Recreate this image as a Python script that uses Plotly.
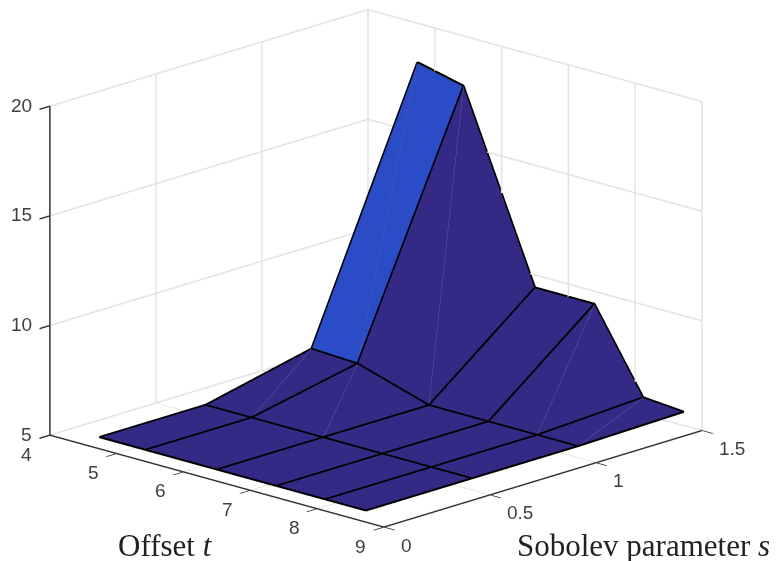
import plotly.graph_objects as go

W, H = 779, 561

# Offset t (rows) and Sobolev parameter s (columns)
t_vals = [4.74, 5.43, 6.50, 7.39, 8.12, 8.73]
s_vals = [0.0, 0.5, 1.0, 1.5]
# z values: one row per t, one column per s
z_vals = [
    [5.5, 5.5, 6.6, 18.2],
    [5.5, 5.5, 6.5, 17.7],
    [5.5, 5.5, 5.5, 9.4],
    [5.5, 5.5, 5.5, 9.4],
    [5.5, 5.5, 5.5, 5.75],
    [5.5, 5.5, 5.5, 5.6],
]

t_ticks = [4, 5, 6, 7, 8, 9]
s_ticks = [0, 0.5, 1, 1.5]
s_tick_text = ["0", "0.5", "1", "1.5"]
z_ticks = [5, 10, 15, 20]

colorscale = [[0, "#342a86"], [0.079, "#2a4dc8"], [1, "#f9fb15"]]
axis_color = "#333333"
grid_color = "#e2e2e2"
tick_font = dict(family="Liberation Sans", size=19, color="#404040")

nt, ns = len(t_vals), len(s_vals)
vx, vy, vz = [], [], []
for i in range(nt):
    for j in range(ns):
        vx.append(t_vals[i]); vy.append(s_vals[j]); vz.append(z_vals[i][j])

I, J, K, cell = [], [], [], []
for i in range(nt - 1):
    for j in range(ns - 1):
        a = i * ns + j
        b = i * ns + j + 1
        c = (i + 1) * ns + j
        d_ = (i + 1) * ns + j + 1
        c_val = z_vals[i + 1][j]       # flat colour taken from one corner of the cell
        I += [a, b]; J += [b, d_]; K += [c, c]
        cell += [c_val, c_val]

mesh = go.Mesh3d(
    x=vx, y=vy, z=vz, i=I, j=J, k=K,
    intensity=cell, intensitymode="cell",
    colorscale=colorscale, cmin=5.5, cmax=18.2, showscale=False,
    flatshading=True,
    lighting=dict(ambient=1, diffuse=0, specular=0, roughness=1, fresnel=0),
    hoverinfo="skip",
)

LIFT = 0.03  # keeps the mesh lines just above the faces
lx, ly, lz = [], [], []
for i in range(nt):
    lx += [t_vals[i]] * ns + [None]
    ly += list(s_vals) + [None]
    lz += [v + LIFT for v in z_vals[i]] + [None]
for j in range(ns):
    lx += list(t_vals) + [None]
    ly += [s_vals[j]] * nt + [None]
    lz += [z_vals[i][j] + LIFT for i in range(nt)] + [None]
lines = go.Scatter3d(x=lx, y=ly, z=lz, mode="lines",
                     line=dict(color="black", width=4), hoverinfo="skip", showlegend=False)

# faint seams where raised cells are split
seams = [(1, 1), (2, 1), (1, 2), (2, 2), (4, 2), (5, 2)]
dx, dy, dz = [], [], []
for i, j in seams:
    dx += [t_vals[i], t_vals[i - 1], None]
    dy += [s_vals[j], s_vals[j + 1], None]
    dz += [z_vals[i][j] + LIFT / 2, z_vals[i - 1][j + 1] + LIFT / 2, None]
seam_trace = go.Scatter3d(x=dx, y=dy, z=dz, mode="lines",
                          line=dict(color="#5f589f", width=1), hoverinfo="skip", showlegend=False)

def axis(rng, vals, ticklen):
    return dict(
        range=rng, autorange=False, tickmode="array", tickvals=vals,
        showticklabels=False,
        showgrid=True, gridcolor=grid_color, gridwidth=3,
        showline=True, linecolor=axis_color, linewidth=3,
        ticks="outside", ticklen=ticklen, tickcolor=axis_color, tickwidth=3,
        showbackground=False, zeroline=False, showspikes=False,
        title=dict(text=""),
    )

def tick_note(x, y, z, text, xanchor, xshift, yshift):
    return dict(x=x, y=y, z=z, text=text, showarrow=False, font=tick_font,
                xanchor=xanchor, yanchor="middle", xshift=xshift, yshift=yshift)

notes = []
for v in t_ticks:
    notes.append(tick_note(v, 0, 5, str(v), "center", -23, -19))
for v, txt in zip(s_ticks, s_tick_text):
    notes.append(tick_note(9, v, 5, txt, "left", 15, -18))
for v in z_ticks:
    notes.append(tick_note(4, 0, v, str(v), "right", -16, 1))

OFF_X, OFF_Y = 8, 9   # the page places the figure this far from the window corner
d = 3.0
A = 653 / 361 * 510 / 561
cam_c = dict(x=0.7244 * 0.0768, y=0.6894 * 0.0768, z=-0.075)
fig = go.Figure([mesh, lines, seam_trace])
fig.update_layout(
    width=W, height=H, margin=dict(l=0, r=0, t=0, b=0),
    paper_bgcolor="white", showlegend=False,
    scene=dict(
        domain=dict(x=[0, 1], y=[0, 1]),
        xaxis=axis([4, 9], t_ticks, 15),
        yaxis=axis([0, 1.5], s_ticks, 15),
        zaxis=axis([5, 20], z_ticks, 7),
        aspectmode="manual", aspectratio=dict(x=A, y=A, z=0.745 * A),
        camera=dict(
            projection=dict(type="orthographic"),
            center=cam_c,
            up=dict(x=0, y=0, z=1),
            eye=dict(x=0.660 * d + cam_c["x"], y=-0.693 * d + cam_c["y"], z=0.289 * d + cam_c["z"]),
        ),
        annotations=notes,
    ),
    annotations=[
        dict(text="Offset <i>t</i>", x=(165 - OFF_X) / W, y=1 - (546 - OFF_Y) / H, xref="paper", yref="paper",
             xanchor="center", yanchor="middle",
             showarrow=False, font=dict(family="Liberation Serif", size=31, color="#222222")),
        dict(text="Sobolev parameter <i>s</i>", x=(643 - OFF_X) / W, y=1 - (546 - OFF_Y) / H, xref="paper", yref="paper",
             xanchor="center", yanchor="middle",
             showarrow=False, font=dict(family="Liberation Serif", size=31, color="#222222")),
    ],
)
fig.write_html("out.html")
